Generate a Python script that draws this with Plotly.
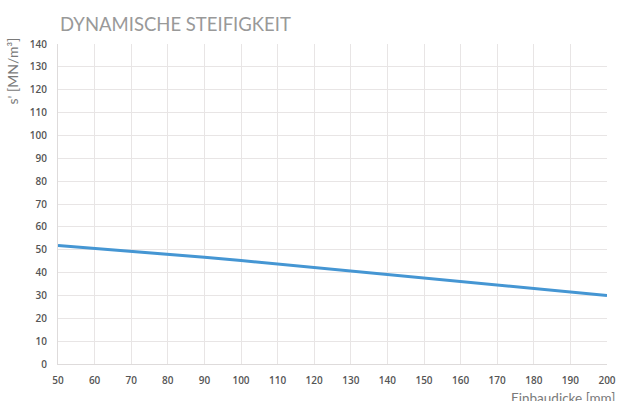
import plotly.graph_objects as go

thickness_mm = [50, 60, 70, 80, 90, 100, 110, 120, 130, 140, 150, 160, 170, 180, 190, 200]
stiffness = [51.8, 50.6, 49.3, 48.0, 46.7, 45.3, 43.8, 42.2, 40.7, 39.2, 37.6, 36.1, 34.6, 33.1, 31.5, 30.0]
x_ticks = list(range(50, 201, 10))
y_ticks = list(range(0, 141, 10))

fig = go.Figure()
fig.add_trace(go.Scatter(x=thickness_mm, y=stiffness, mode="lines",
                         line=dict(color="#4596d3", width=3), showlegend=False))

tick_font = dict(family="Open Sans", size=10, color="#555555", weight=600)
fig.update_layout(
    width=619, height=401,
    margin=dict(l=58, r=12, t=44, b=37),
    paper_bgcolor="white", plot_bgcolor="white",
    xaxis=dict(range=[50, 200], tickvals=x_ticks, showgrid=True, gridcolor="#e8e5e5",
               gridwidth=1, zeroline=False, showline=True, linecolor="#dedbdb",
               tickfont=tick_font, ticks="", ticklabelstandoff=7, automargin=False),
    yaxis=dict(range=[0, 140], tickvals=y_ticks, showgrid=True, gridcolor="#e8e5e5",
               gridwidth=1, zeroline=False, showline=True, linecolor="#dedbdb",
               tickfont=tick_font, ticks="", ticklabelstandoff=8, automargin=False),
    annotations=[
        dict(text="DYNAMISCHE STEIFIGKEIT", xref="paper", yref="paper", x=0, y=1,
             xanchor="left", yanchor="bottom", yshift=7, showarrow=False,
             font=dict(family="Lato", size=18.5, color="#999999")),
        dict(text="s' [MN/m³]", xref="paper", yref="paper", x=0, y=1,
             xanchor="center", yanchor="top", xshift=-46, yshift=8, textangle=-90,
             showarrow=False, font=dict(family="Lato", size=14, color="#7a7a7a")),
        dict(text="Einbaudicke [mm]", xref="paper", yref="paper", x=1, y=0,
             xanchor="right", yanchor="top", xshift=10, yshift=-24, showarrow=False,
             font=dict(family="Lato", size=13.5, color="#7a7a7a")),
    ],
)
fig.write_html("out.html", config={"displayModeBar": False},
               post_script="document.body.style.margin='0';document.body.style.overflow='hidden';")
